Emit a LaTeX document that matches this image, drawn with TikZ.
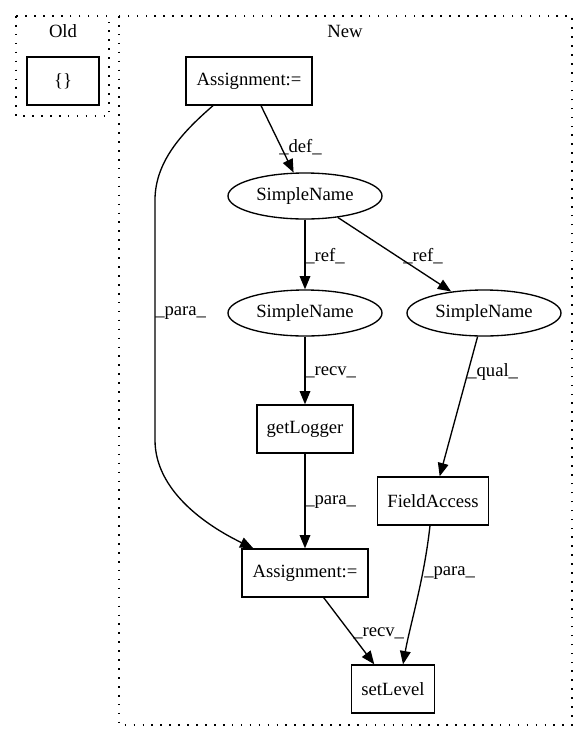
\documentclass[tikz,border=0pt]{standalone}
\usepackage{fontspec}
\setmainfont{Liberation Serif}
\usetikzlibrary{arrows.meta,shapes.geometric,calc}
\begin{document}
\begin{tikzpicture}[x=0.75pt,y=-0.75pt,
  every node/.style={font=\fontsize{14pt}{16pt}\selectfont},
  box/.style={draw,line width=1pt,rectangle,minimum height=36pt,inner sep=0pt},
  oval/.style={draw,line width=1pt,ellipse,minimum width=115.5pt,minimum height=34.5pt,inner sep=0pt},
  edge/.style={draw,line width=1pt,-{Triangle[length=10pt,width=8pt]}},
  elabel/.style={anchor=west,inner sep=0pt},
  cluster/.style={draw,line width=1pt,dash pattern=on 1.2pt off 5.5pt}]
\useasboundingbox (0,0) rectangle (588,740);
% clusters
\draw[cluster] (16,16) rectangle (109,116);
\draw[cluster] (119,16) rectangle (572,725);
\node (oldlbl) at (63,31) {Old};
\node (newlbl) at (345,31) {New};
% nodes
\node[box,minimum width=54pt] (braces) at (63,81) {\{\}};
\node[box,minimum width=94.5pt] (a1) at (249,81) {Assignment:=};
\node[oval] (sn1) at (305,196) {SimpleName};
\node[oval] (sn2) at (305,313) {SimpleName};
\node[oval] (sn3) at (484,313) {SimpleName};
\node[box,minimum width=72pt] (gl) at (305,429) {getLogger};
\node[box,minimum width=83.25pt] (fa) at (433,501) {FieldAccess};
\node[box,minimum width=94.5pt] (a2) at (305,573) {Assignment:=};
\node[box,minimum width=62.25pt] (sl) at (393,689) {setLevel};
% edges
\draw[edge] (a1) -- (sn1);
\draw[edge] ($(a1.south)+(-36,0)$) .. controls (185,130) and (155,160) .. (155,200)
   -- (155,440) .. controls (155,490) and (205,525) .. ($(a2.north west)+(12,0)$);
\draw[edge] (sn1) -- (sn2);
\draw[edge] (sn1) -- (sn3);
\draw[edge] (sn2) -- (gl);
\draw[edge] (sn3) -- (fa);
\draw[edge] (gl) -- (a2);
\draw[edge] (a2) -- (sl);
\draw[edge] ($(fa.south)+(-3,0)$) .. controls (424,580) and (410,625) .. ($(sl.north)+(10,0)$);
% edge labels
\node[elabel] (l1) at (279,147) {\_def\_};
\node[elabel] (l2) at (155,313) {\_para\_};
\node[elabel] (l3) at (305,256) {\_ref\_};
\node[elabel] (l4) at (403,256) {\_ref\_};
\node[elabel] (l5) at (305,372) {\_recv\_};
\node[elabel] (l6) at (467,372) {\_qual\_};
\node[elabel] (l7) at (305,502) {\_para\_};
\node[elabel] (l8) at (424,573) {\_para\_};
\node[elabel] (l9) at (353,633) {\_recv\_};
\end{tikzpicture}
\end{document}
